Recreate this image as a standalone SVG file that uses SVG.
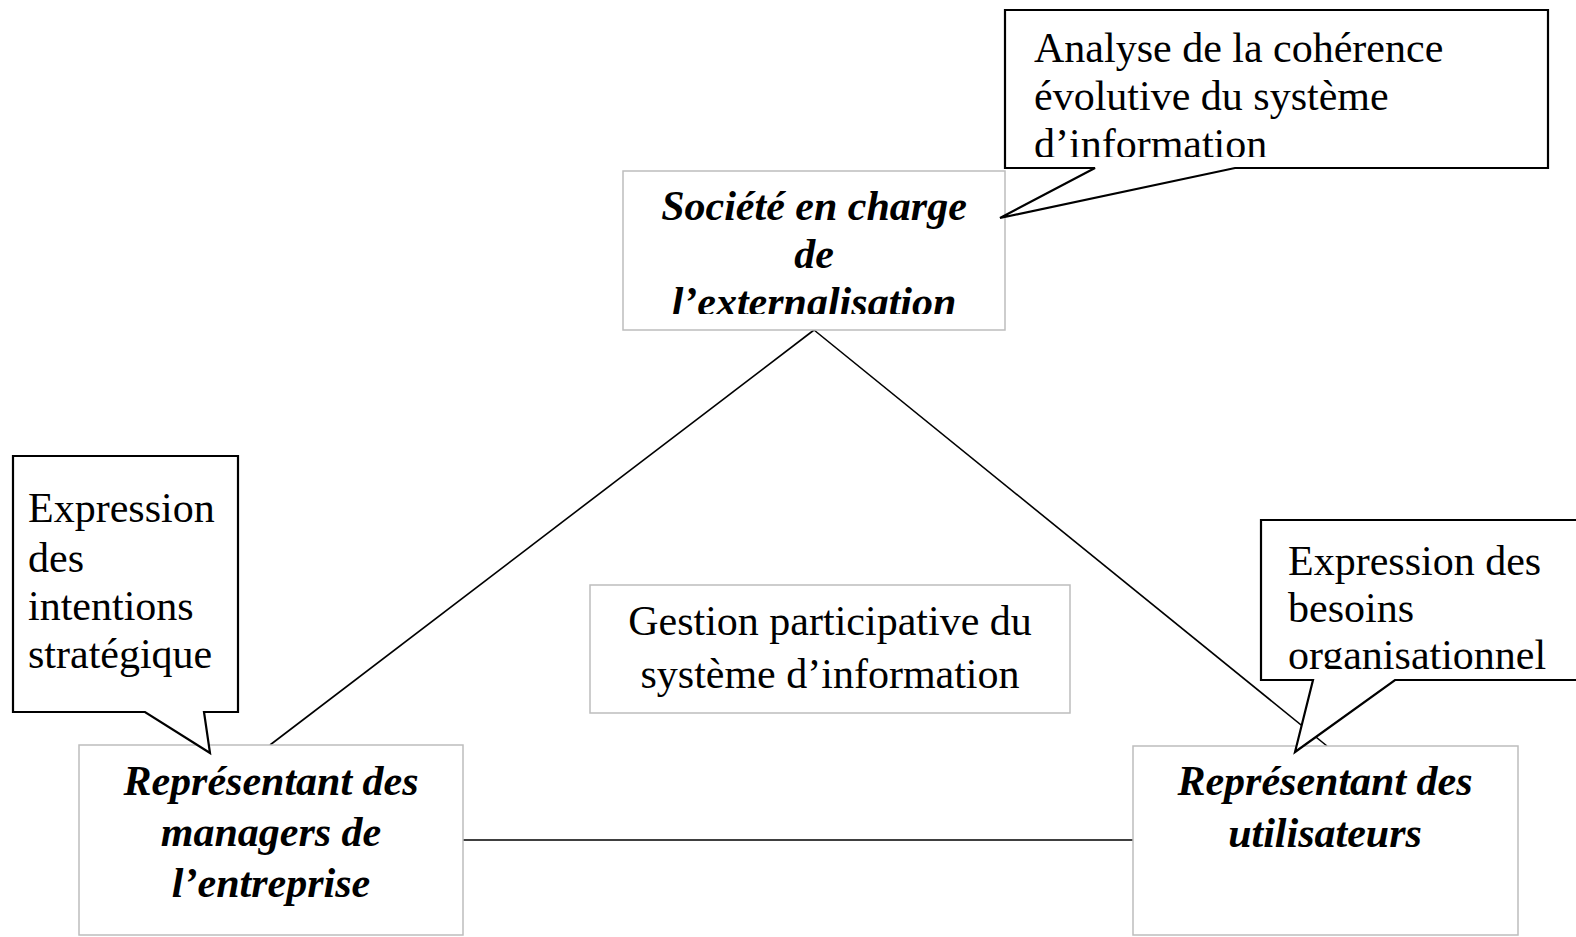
<svg xmlns="http://www.w3.org/2000/svg" width="1576" height="937" viewBox="0 0 1576 937">
<style>
.bg{fill:#fff}
.node{fill:#fff;stroke:#bdbdbd;stroke-width:1.5}
.callout{fill:#fff;stroke:#000;stroke-width:2.2;stroke-linejoin:miter}
.conn{fill:none;stroke:#000;stroke-width:1.6}
.t{font-family:"Liberation Serif","Times New Roman",serif;font-size:42px;fill:#000}
.bi{font-weight:bold;font-style:italic;text-anchor:middle}
.c{text-anchor:middle}
</style>
<defs>
<clipPath id="clipTop"><rect x="1005" y="10" width="543" height="147"/></clipPath>
<clipPath id="clipSoc"><rect x="623" y="171" width="382" height="143"/></clipPath>
<clipPath id="clipRight"><rect x="1261" y="520" width="315" height="149"/></clipPath>
</defs>
<rect class="bg" x="0" y="0" width="1576" height="937"/>

<g id="connectors">
<line class="conn" x1="814" y1="330" x2="270" y2="745"/>
<line class="conn" x1="814" y1="330" x2="1327" y2="746"/>
<line class="conn" x1="463" y1="840" x2="1133" y2="840"/>
</g>

<g id="node-societe">
<rect class="node" x="623" y="171" width="382" height="159"/>
<g clip-path="url(#clipSoc)">
<text class="t bi" x="814" y="220">Société en charge</text>
<text class="t bi" x="814" y="268">de</text>
<text class="t bi" x="814" y="316">l’externalisation</text>
</g>
</g>

<g id="node-gestion">
<rect class="node" x="590" y="585" width="480" height="128"/>
<text class="t c" x="830" y="635">Gestion participative du</text>
<text class="t c" x="830" y="688">système d’information</text>
</g>

<g id="node-managers">
<rect class="node" x="79" y="745" width="384" height="190"/>
<text class="t bi" x="271" y="795">Représentant des</text>
<text class="t bi" x="271" y="846">managers de</text>
<text class="t bi" x="271" y="897">l’entreprise</text>
</g>

<g id="node-utilisateurs">
<rect class="node" x="1133" y="746" width="385" height="189"/>
<text class="t bi" x="1325" y="795">Représentant des</text>
<text class="t bi" x="1325" y="847">utilisateurs</text>
</g>

<g id="callout-analyse">
<path class="callout" d="M1005,10 H1548 V168 H1235 L1000,218 L1095,168 H1005 Z"/>
<g clip-path="url(#clipTop)">
<text class="t" x="1034" y="62">Analyse de la cohérence</text>
<text class="t" x="1034" y="110">évolutive du système</text>
<text class="t" x="1034" y="158">d’information</text>
</g>
</g>

<g id="callout-intentions">
<path class="callout" d="M13,456 H238 V712 H204 L210,753 L145,712 H13 Z"/>
<text class="t" x="28" y="522">Expression</text>
<text class="t" x="28" y="572">des</text>
<text class="t" x="28" y="620">intentions</text>
<text class="t" x="28" y="668">stratégique</text>
</g>

<g id="callout-besoins">
<path class="callout" d="M1261,520 H1580 V680 H1395 L1295,752 L1313,680 H1261 Z"/>
<g clip-path="url(#clipRight)">
<text class="t" x="1288" y="575">Expression des</text>
<text class="t" x="1288" y="622">besoins</text>
<text class="t" x="1288" y="669">organisationnel</text>
</g>
</g>
</svg>
